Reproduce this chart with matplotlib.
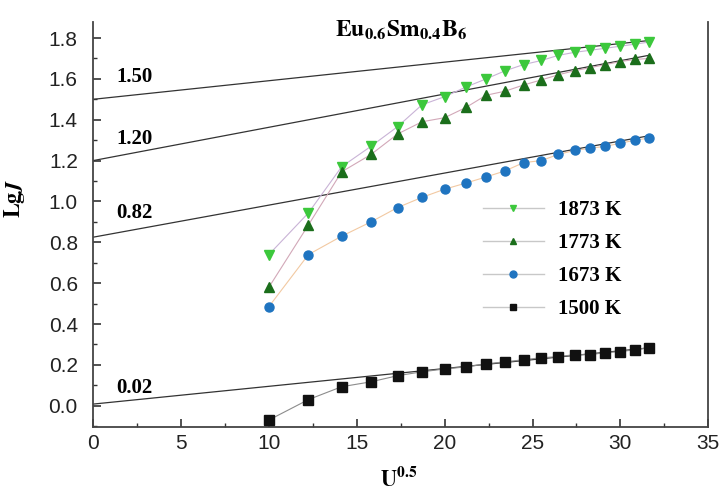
"""Lg J versus U^0.5 for Eu0.6Sm0.4B6 at four temperatures"""

import matplotlib
matplotlib.use("Agg")
import matplotlib.pyplot as plt
from matplotlib.ticker import MultipleLocator

plt.rcParams['mathtext.fontset'] = 'stix'
plt.rcParams['font.family'] = ['Liberation Sans', 'DejaVu Sans']

# x values: U^0.5 for U = 100 ... 1000 V
u_sqrt = [10.0, 12.25, 14.14, 15.81, 17.32, 18.71, 20.0, 21.21, 22.36, 23.45,
          24.49, 25.5, 26.46, 27.39, 28.28, 29.15, 30.0, 30.82, 31.62]

lgj_1873 = [0.74, 0.944, 1.17, 1.27, 1.366, 1.473, 1.513, 1.56, 1.60, 1.64,
            1.67, 1.69, 1.715, 1.73, 1.74, 1.75, 1.76, 1.77, 1.78]
lgj_1773 = [0.58, 0.885, 1.145, 1.23, 1.33, 1.39, 1.41, 1.46, 1.52, 1.54,
            1.57, 1.595, 1.62, 1.64, 1.655, 1.67, 1.685, 1.695, 1.70]
lgj_1673 = [0.485, 0.74, 0.83, 0.90, 0.97, 1.02, 1.06, 1.09, 1.12, 1.15,
            1.19, 1.20, 1.23, 1.25, 1.26, 1.27, 1.285, 1.30, 1.31]
lgj_1500 = [-0.07, 0.03, 0.093, 0.117, 0.147, 0.166, 0.18, 0.19, 0.205, 0.215,
            0.225, 0.235, 0.24, 0.25, 0.25, 0.26, 0.265, 0.274, 0.284]

# linear extrapolations to U^0.5 = 0
fit_labels = ['1.50', '1.20', '0.82', '0.02']
fit_intercepts = [1.50, 1.20, 0.825, 0.008]
fit_slopes = [0.0091, 0.0163, 0.0157, 0.0087]
fit_label_y = [1.61, 1.305, 0.945, 0.088]
fit_x_end = 31.6

series = [
    ('1873 K', lgj_1873, 'v', '#3cc83c', '#c9b3d6'),
    ('1773 K', lgj_1773, '^', '#1b6e1b', '#d2a8b8'),
    ('1673 K', lgj_1673, 'o', '#1f74c0', '#f2c9a2'),
    ('1500 K', lgj_1500, 's', '#111111', '#8c8c8c'),
]

fig = plt.figure(figsize=(7.22, 4.91), dpi=100)
ax = fig.add_axes([0.129, 0.130, 0.852, 0.825])

for label, b, a, ty in zip(fit_labels, fit_intercepts, fit_slopes, fit_label_y):
    ax.plot([0, fit_x_end], [b, b + a * fit_x_end], color='#333333', lw=0.9, zorder=2)
    ax.text(1.3, ty, label, fontsize=15, fontweight='bold',
            family='Liberation Serif', ha='left', va='center')

handles = []
for label, y, marker, mcolor, lcolor in series:
    ax.plot(u_sqrt, y, color=lcolor, lw=0.8, marker=marker, markersize=6.5,
            markerfacecolor=mcolor, markeredgecolor=mcolor, zorder=3)
    # legend proxy: grey line with a smaller marker
    h, = ax.plot([], [], color='#c8c8c8', lw=1.0, marker=marker, markersize=5,
                 markerfacecolor=mcolor, markeredgecolor=mcolor, label=label)
    handles.append(h)

ax.text(17.5, 1.84, r'$\mathbf{Eu_{0.6}Sm_{0.4}B_6}$', fontsize=17,
        ha='center', va='center')

ax.set_xlim(0, 35)
ax.set_ylim(-0.105, 1.878)
ax.xaxis.set_major_locator(MultipleLocator(5))
ax.xaxis.set_minor_locator(MultipleLocator(2.5))
ax.yaxis.set_major_locator(MultipleLocator(0.2))
ax.yaxis.set_minor_locator(MultipleLocator(0.1))
ax.yaxis.set_major_formatter(lambda v, pos: f'{v:.1f}')
ax.tick_params(which='both', direction='in', labelsize=15, colors='#333333',
               labelcolor='#222222')
ax.tick_params(which='major', length=6, width=1.2)
ax.tick_params(which='minor', length=3, width=1.0)
ax.tick_params(axis='x', pad=5)
ax.tick_params(axis='y', pad=11)
ax.spines['top'].set_visible(False)
for side in ('left', 'bottom', 'right'):
    ax.spines[side].set_linewidth(1.3)
    ax.spines[side].set_color('#444444')

ax.set_xlabel(r'$\mathbf{U^{0.5}}$', fontsize=16)
ax.set_ylabel(r'$\mathbf{Lg}\boldsymbol{J}$', fontsize=16)
ax.xaxis.set_label_coords(0.497, -0.098)
ax.yaxis.set_label_coords(-0.108, 0.565)

ax.legend(handles=handles, loc='upper left', bbox_to_anchor=(0.634, 0.56),
          frameon=False, borderpad=0, borderaxespad=0,
          handlelength=2.9, labelspacing=0.62, handletextpad=0.7,
          prop={'family': 'Liberation Serif', 'weight': 'bold', 'size': 15})

fig.savefig('out.png', dpi=100)
